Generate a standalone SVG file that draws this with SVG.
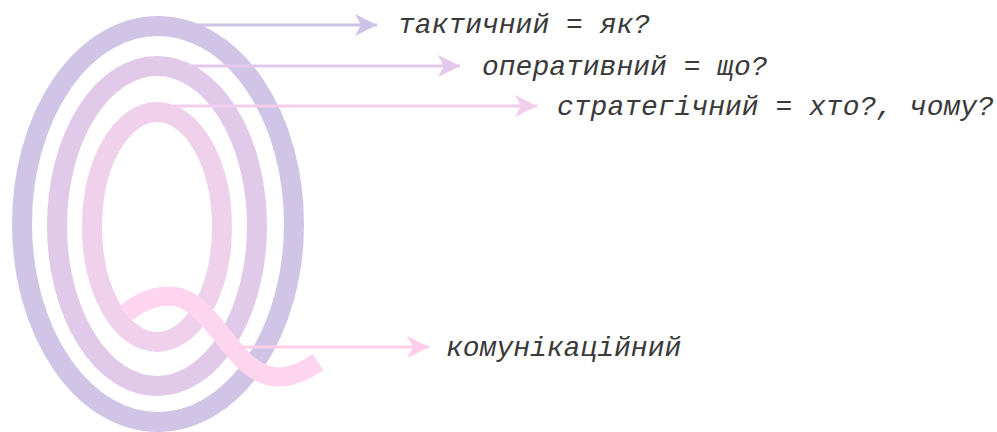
<svg xmlns="http://www.w3.org/2000/svg" width="997" height="432" viewBox="0 0 997 432">
<defs>
<style>
.ring{fill:none;stroke-width:20}
.lbl{font-family:"Liberation Mono","Courier New",monospace;font-style:italic;font-size:28px;fill:#3a3a3a}
.ln{stroke-width:3;fill:none}
</style>
<marker id="ahT" markerUnits="userSpaceOnUse" markerWidth="24" markerHeight="24" refX="22" refY="12" orient="auto"><path d="M0,1 L22,12 L0,23 L6,12 Z" fill="#CFC2E8"/></marker>
<marker id="ahO" markerUnits="userSpaceOnUse" markerWidth="24" markerHeight="24" refX="22" refY="12" orient="auto"><path d="M0,1 L22,12 L0,23 L6,12 Z" fill="#E4C9EC"/></marker>
<marker id="ahS" markerUnits="userSpaceOnUse" markerWidth="24" markerHeight="24" refX="22" refY="12" orient="auto"><path d="M0,1 L22,12 L0,23 L6,12 Z" fill="#F3CDEC"/></marker>
<marker id="ahC" markerUnits="userSpaceOnUse" markerWidth="24" markerHeight="24" refX="22" refY="12" orient="auto"><path d="M0,1 L22,12 L0,23 L6,12 Z" fill="#FDCDEB"/></marker>
</defs>
<rect width="997" height="432" fill="#ffffff"/>
<g id="rings">
<ellipse cx="158" cy="224" rx="136" ry="198" class="ring" stroke="#D1C5E7"/>
<ellipse cx="157" cy="226" rx="100" ry="160" class="ring" stroke="#E1CAE9"/>
<ellipse cx="157" cy="227" rx="65" ry="115" class="ring" stroke="#F0D1EC"/>
<path d="M126,313 C145,298 175,285 200,310 C225,332 240,372 275,377 C292,378 306,370 318,362" fill="none" stroke="#FDD5EF" stroke-width="19"/>
</g>
<g id="connectors">
<line x1="197" y1="25" x2="377" y2="25" class="ln" stroke="#CFC2E8" marker-end="url(#ahT)"/>
<line x1="187" y1="66" x2="460" y2="66" class="ln" stroke="#E4C9EC" marker-end="url(#ahO)"/>
<line x1="173" y1="106" x2="537" y2="106" class="ln" stroke="#F3CDEC" marker-end="url(#ahS)"/>
<line x1="238" y1="347" x2="429" y2="347" class="ln" stroke="#FDCDEB" marker-end="url(#ahC)"/>
</g>
<g id="tactical"><text class="lbl" x="398" y="33">тактичний = як?</text></g>
<g id="operational"><text class="lbl" x="482" y="75">оперативний = що?</text></g>
<g id="strategic"><text class="lbl" x="557" y="115">стратегічний = хто?, чому?</text></g>
<g id="communication"><text class="lbl" x="446" y="356">комунікаційний</text></g>
</svg>
